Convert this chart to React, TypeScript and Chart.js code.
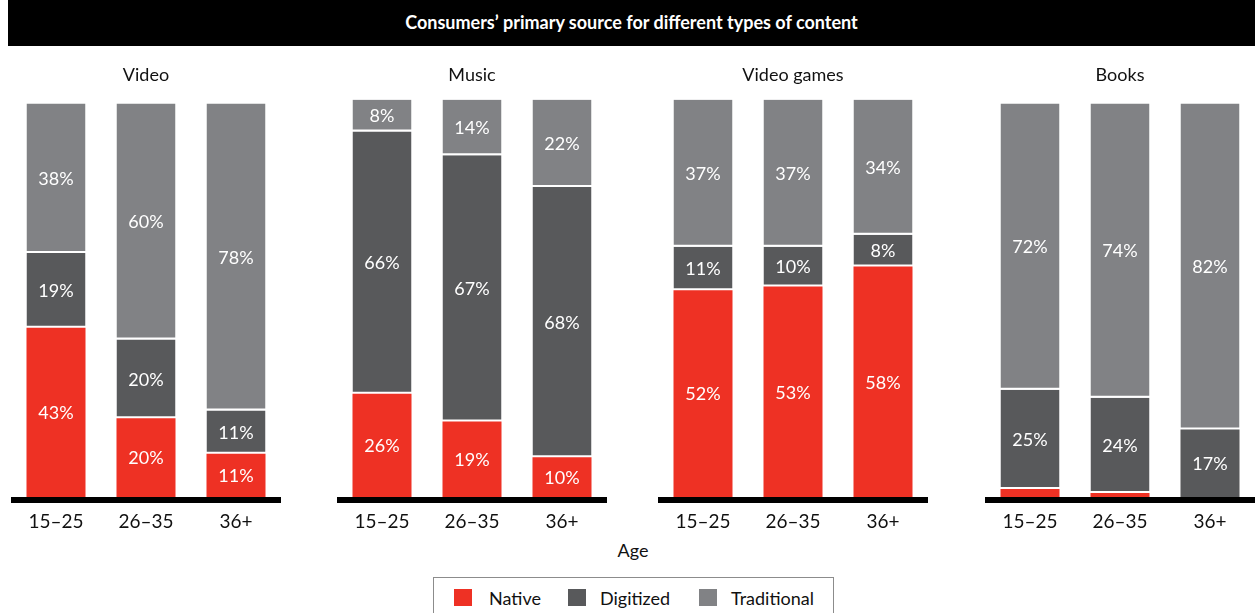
import React, { useEffect, useRef } from 'react';
import { Chart, registerables } from 'chart.js';

Chart.register(...registerables);

const FONT = 'Lato, "Open Sans", sans-serif';

const chartTitle = 'Consumers’ primary source for different types of content';
const axisTitle = 'Age';
const ageGroups = ['15–25', '26–35', '36+'];
const panelTitles = ['Video', 'Music', 'Video games', 'Books'];
const seriesNames = ['Native', 'Digitized', 'Traditional'];
const seriesColors = ['#EE3124', '#58595B', '#818285'];

const videoNative = [43, 20, 11];
const videoDigitized = [19, 20, 11];
const videoTraditional = [38, 60, 78];

const musicNative = [26, 19, 10];
const musicDigitized = [66, 67, 68];
const musicTraditional = [8, 14, 22];

const gamesNative = [52, 53, 58];
const gamesDigitized = [11, 10, 8];
const gamesTraditional = [37, 37, 34];

const booksNative = [2, 1, 0];
const booksDigitized = [25, 24, 17];
const booksTraditional = [72, 74, 82];

const panelData = [
  [videoNative, videoDigitized, videoTraditional],
  [musicNative, musicDigitized, musicTraditional],
  [gamesNative, gamesDigitized, gamesTraditional],
  [booksNative, booksDigitized, booksTraditional],
];

// layout (not data)
const panelLefts = [11, 337, 658, 985];
const panelYMax = [101, 100, 100, 100];
const PANEL_TOP = 56;
const PANEL_W = 270;
const PANEL_H = 476;

const segmentPlugin = {
  id: 'segmentLabels',
  afterDatasetsDraw(chart: any) {
    const ctx = chart.ctx;
    ctx.save();
    ctx.fillStyle = '#ffffff';
    ctx.font = `18px ${FONT}`;
    ctx.textAlign = 'center';
    ctx.textBaseline = 'middle';
    chart.data.datasets.forEach((ds: any, i: number) => {
      const meta = chart.getDatasetMeta(i);
      meta.data.forEach((el: any, j: number) => {
        const v = ds.data[j];
        if (v < 5) return;
        const p = el.getProps(['x', 'y', 'base'], true);
        ctx.fillText(`${v}%`, p.x, (p.y + p.base) / 2 + 1);
      });
    });
    const { left, right, bottom } = chart.chartArea;
    ctx.fillStyle = '#000000';
    ctx.fillRect(left, bottom, right - left, 6);
    ctx.restore();
  },
};

function Panel({ index }: { index: number }) {
  const ref = useRef<HTMLCanvasElement | null>(null);
  useEffect(() => {
    if (!ref.current) return;
    const [nat, dig, trad] = panelData[index];
    const arrays = [nat, dig, trad];
    const chart = new Chart(ref.current, {
      type: 'bar',
      data: {
        labels: ageGroups,
        datasets: seriesNames.map((name, s) => ({
          label: name,
          data: arrays[s],
          backgroundColor: seriesColors[s],
          borderColor: '#ffffff',
          borderSkipped: false,
          borderWidth: (c: any) => {
            if (s === 0) return 0;
            const below = s === 1 ? nat[c.dataIndex] : 1;
            return below > 0 ? { top: 0, left: 0, right: 0, bottom: 2 } : 0;
          },
          barPercentage: 59 / 90,
          categoryPercentage: 1,
        })),
      },
      options: {
        animation: false,
        responsive: false,
        layout: { padding: 0 },
        plugins: {
          legend: { display: false },
          tooltip: { enabled: false },
          title: {
            display: true,
            text: panelTitles[index],
            color: '#111111',
            font: { family: FONT, size: 18, weight: 'normal' },
            padding: { top: 8, bottom: 14 },
          },
        },
        scales: {
          x: {
            stacked: true,
            grid: { display: false, drawTicks: false },
            border: { display: false },
            ticks: { color: '#111111', font: { family: FONT, size: 19 }, padding: 13 },
            afterFit: (s: any) => {
              s.height = 35;
            },
          },
          y: { stacked: true, display: false, min: 0, max: panelYMax[index] },
        },
      } as any,
      plugins: [segmentPlugin],
    });
    return () => chart.destroy();
  }, [index]);
  return (
    <div style={{ position: 'absolute', left: panelLefts[index], top: PANEL_TOP, width: PANEL_W, height: PANEL_H }}>
      <canvas ref={ref} width={PANEL_W} height={PANEL_H} style={{ width: PANEL_W, height: PANEL_H, display: 'block' }} />
    </div>
  );
}

const legendSquareX = [20, 134, 265];
const legendTextX = [55, 166, 297];

export default function App() {
  return (
    <div style={{ position: 'absolute', left: 0, top: 0, width: 1255, height: 613, overflow: 'hidden', fontFamily: FONT, background: '#fff' }}>
      <div
        style={{
          position: 'absolute', left: 8, top: 0, width: 1247, height: 46, background: '#000', color: '#fff',
          fontWeight: 700, fontSize: 18, lineHeight: '45px', textAlign: 'center',
        }}
      >
        {chartTitle}
      </div>
      {panelTitles.map((_, i) => (
        <Panel key={i} index={i} />
      ))}
      <div style={{ position: 'absolute', left: 583, top: 540, width: 100, textAlign: 'center', fontSize: 18, lineHeight: '20px', color: '#111' }}>
        {axisTitle}
      </div>
      <div style={{ position: 'absolute', left: 433, top: 577, width: 401, height: 60, border: '1px solid #8c8c8c', boxSizing: 'border-box' }}>
        {seriesNames.map((name, i) => (
          <React.Fragment key={name}>
            <div style={{ position: 'absolute', left: legendSquareX[i], top: 11, width: 18, height: 17, background: seriesColors[i] }} />
            <div style={{ position: 'absolute', left: legendTextX[i], top: 9, fontSize: 18, lineHeight: '22px', color: '#111' }}>{name}</div>
          </React.Fragment>
        ))}
      </div>
    </div>
  );
}
